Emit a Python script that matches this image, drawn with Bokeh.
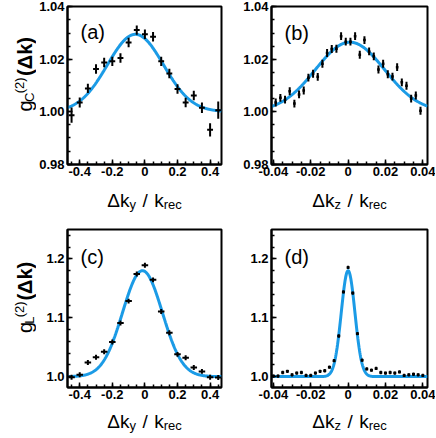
import math
import numpy as np
from bokeh.plotting import figure
from bokeh.layouts import column, row
from bokeh.models import Label, Range1d, FixedTicker
from bokeh.embed import file_html
from bokeh.resources import INLINE

# ---------------- data ----------------
# panel (a): g_C^(2) vs dk_y
ky_a = [-0.45, -0.40, -0.35, -0.30, -0.25, -0.20, -0.15, -0.10, -0.05, 0.00,
        0.05, 0.10, 0.15, 0.20, 0.25, 0.30, 0.35, 0.40, 0.45]
gc_a = [0.9987, 1.0035, 1.0089, 1.0163, 1.0188, 1.0192, 1.0205, 1.0264, 1.0311, 1.0295,
        1.0286, 1.0192, 1.0146, 1.0087, 1.0035, 1.0062, 1.0015, 0.9931, 1.0006]
gc_a_err = [0.0029, 0.0019, 0.0018, 0.0018, 0.0018, 0.0018, 0.0018, 0.0018, 0.0018, 0.0018,
            0.0018, 0.0018, 0.0018, 0.0018, 0.0018, 0.0018, 0.0020, 0.0025, 0.0033]
ky_a_bin = 0.018

# panel (b): g_C^(2) vs dk_z
kz_b = [-0.03875, -0.03625, -0.03375, -0.03125, -0.02875, -0.02625, -0.02375, -0.02125,
        -0.01875, -0.01625, -0.01375, -0.01125, -0.00875, -0.00625, -0.00375, -0.00125,
        0.00125, 0.00375, 0.00625, 0.00875, 0.01125, 0.01375, 0.01625, 0.01875,
        0.02125, 0.02375, 0.02625, 0.02875, 0.03125, 0.03375, 0.03625, 0.03875]
gc_b = [1.0035, 1.0053, 1.0046, 1.0078, 1.0031, 1.0066, 1.0081, 1.0130,
        1.0145, 1.0133, 1.0183, 1.0224, 1.0239, 1.0240, 1.0288, 1.0267,
        1.0267, 1.0288, 1.0217, 1.0273, 1.0230, 1.0211, 1.0161, 1.0183,
        1.0143, 1.0134, 1.0170, 1.0112, 1.0099, 1.0050, 1.0062, 1.0004]
gc_b_err = 0.0015
kz_b_bin = 0.0007

# panel (c): g_L^(2) vs dk_y
ky_c = [-0.45, -0.40, -0.35, -0.30, -0.25, -0.20, -0.15, -0.10, -0.05, 0.00,
        0.05, 0.10, 0.15, 0.20, 0.25, 0.30, 0.35, 0.40, 0.45]
gl_c = [0.9990, 1.0033, 1.0239, 1.0328, 1.0422, 1.0589, 1.0911, 1.1283, 1.1744, 1.1894,
        1.1644, 1.1106, 1.0744, 1.0378, 1.0322, 1.0156, 1.0089, 0.9989, 0.9986]
gl_c_err = 0.0042
ky_c_bin = 0.02

# panel (d): g_L^(2) vs dk_z
kz_d = [-0.0400, -0.0375, -0.0350, -0.0325, -0.0300, -0.0275, -0.0250, -0.0225,
        -0.0200, -0.0175, -0.0150, -0.0125, -0.0100, -0.0075, -0.0050, -0.0025,
        0.0000, 0.0025, 0.0050, 0.0075, 0.0100, 0.0125, 0.0150, 0.0175,
        0.0200, 0.0225, 0.0250, 0.0275, 0.0300, 0.0325, 0.0350, 0.0375, 0.0400]
gl_d = [1.001, 1.001, 1.007, 1.009, 1.003, 1.006, 1.007, 1.002,
        1.002, 1.006, 1.009, 1.010, 1.016, 1.027, 1.069, 1.144,
        1.1856, 1.142, 1.073, 1.028, 1.013, 1.011, 1.014, 1.007,
        1.006, 1.007, 1.006, 1.008, 1.002, 1.003, 1.004, 1.003, 1.002]
gl_d_err = 0.0028
kz_d_bin = 0.0008

# Gaussian fit parameters (baseline, amplitude, centre, width)
fit_a = (1.0, 0.0295, -0.058, 0.172)
fit_b = (1.0, 0.0265, 0.001, 0.0185)
fit_c = (1.0, 0.180, -0.015, 0.122)
fit_d = (1.0, 0.180, 0.0, 0.00365)

# tick labels
ky_ticks = [-0.4, -0.2, 0.0, 0.2, 0.4]
ky_tick_labels = ["-0.4", "-0.2", "0", "0.2", "0.4"]
kz_ticks = [-0.04, -0.02, 0.0, 0.02, 0.04]
kz_tick_labels = ["-0.04", "-0.02", "0", "0.02", "0.04"]
gc_ticks = [0.98, 1.00, 1.02, 1.04]
gc_tick_labels = ["0.98", "1.00", "1.02", "1.04"]
gl_ticks = [1.0, 1.1, 1.2]
gl_tick_labels = ["1.0", "1.1", "1.2"]

# ---------------- styling / layout ----------------
FONT = "Liberation Sans"
BLUE = "#1B9BE6"
TICK_FS = "13px"

YLAB_W = 36                        # strip holding the rotated y labels
LB_L, L_FRAME, LB_R = 31, 154, 10  # left column figure: border, frame, border
RB_L, R_FRAME, RB_R = 40, 156, 8   # right column figure
LEFT_W = LB_L + L_FRAME + LB_R
RIGHT_W = RB_L + R_FRAME + RB_R
FULL_W = YLAB_W + LEFT_W + RIGHT_W
TB_T, BB_T, AX_B, FRAME_H = 6, 14, 17, 158
TOP_H = TB_T + FRAME_H + AX_B
BOT_H = BB_T + FRAME_H + AX_B
XLAB1_H, XLAB2_H = 34, 32
XL_BASE = 15                       # x-label baseline above the strip bottom

W_REG = {' ': 0.278, '(': 0.333, ')': 0.333, '/': 0.278, '2': 0.556, 'C': 0.722, 'L': 0.556,
         'g': 0.556, 'k': 0.5, 'y': 0.5, 'z': 0.5, 'r': 0.333, 'e': 0.556, 'c': 0.5, 'Δ': 0.668}
W_BOLD = {' ': 0.278, '(': 0.333, ')': 0.333, 'Δ': 0.722, 'k': 0.556}


def tw(s, size, bold=False):
    t = W_BOLD if bold else W_REG
    return sum(t.get(ch, 0.556) for ch in s) * size


def add_piece(p, x, y, text, size, bold, angle=0.0):
    p.add_layout(Label(x=x, y=y, text=text, angle=angle,
                       text_font=FONT, text_font_size=f"{size}px",
                       text_font_style="bold" if bold else "normal",
                       text_align="left", text_baseline="alphabetic", text_color="black"))


def piece_len(pieces):
    return sum(tw(t, s, b) + gap for t, s, b, sh, gap in pieces)


def hlabel(p, pieces, cx, y):
    x = cx - piece_len(pieces) / 2
    for t, s, b, sh, gap in pieces:
        add_piece(p, x, y + sh, t, s, b)
        x += tw(t, s, b) + gap


def vlabel(p, pieces, x, cy):
    y = cy - piece_len(pieces) / 2
    for t, s, b, sh, gap in pieces:
        add_piece(p, x - sh, y, t, s, b, angle=math.pi / 2)
        y += tw(t, s, b) + gap


def text_strip(width, height):
    p = figure(width=width, height=height, output_backend="svg", toolbar_location=None,
               x_range=Range1d(0, width), y_range=Range1d(0, height),
               x_axis_location=None, y_axis_location=None,
               min_border_left=0, min_border_right=0, min_border_top=0, min_border_bottom=0)
    p.xgrid.visible = False
    p.ygrid.visible = False
    p.outline_line_color = None
    p.background_fill_color = "white"
    p.border_fill_color = "white"
    return p


def make_panel(width, height, borders, xr, yr, xt, xtl, xminor, yt, ytl, yminor):
    p = figure(width=width, height=height, output_backend="svg", toolbar_location=None,
               x_range=Range1d(*xr), y_range=Range1d(*yr),
               min_border_left=borders[0], min_border_right=borders[1],
               min_border_top=borders[2], min_border_bottom=borders[3])
    p.xgrid.visible = False
    p.ygrid.visible = False
    p.outline_line_color = "black"
    p.outline_line_width = 2
    p.background_fill_color = "white"
    p.border_fill_color = "white"
    p.xaxis.ticker = FixedTicker(ticks=xt, minor_ticks=xminor)
    p.yaxis.ticker = FixedTicker(ticks=yt, minor_ticks=yminor)
    p.xaxis.major_label_overrides = {v: l for v, l in zip(xt, xtl)}
    p.yaxis.major_label_overrides = {v: l for v, l in zip(yt, ytl)}
    for ax in (p.xaxis[0], p.yaxis[0]):
        ax.axis_line_width = 2
        ax.axis_line_color = "black"
        ax.major_tick_in = 5
        ax.major_tick_out = 0
        ax.minor_tick_in = 3
        ax.minor_tick_out = 0
        ax.major_tick_line_width = 1.5
        ax.minor_tick_line_width = 1.5
        ax.major_label_text_font = FONT
        ax.major_label_text_font_style = "bold"
        ax.major_label_text_font_size = TICK_FS
        ax.major_label_text_color = "black"
    p.xaxis[0].major_label_standoff = 2
    p.yaxis[0].major_label_standoff = 3
    return p


def draw(p, xs, ys, yerr, xerr, fit, xr, hw):
    x = np.array(xs)
    y = np.array(ys)
    ye = np.broadcast_to(np.array(yerr, dtype=float), y.shape)
    b, a, c, s = fit
    xf = np.linspace(xr[0], xr[1], 400)
    yf = b + a * np.exp(-(xf - c) ** 2 / (2 * s ** 2))
    p.line(xf, yf, line_color=BLUE, line_width=3)
    p.segment(x0=x, y0=y - ye, x1=x, y1=y + ye, line_color="black", line_width=2)
    p.segment(x0=x - xerr, y0=y, x1=x + xerr, y1=y, line_color="black", line_width=hw)


minor_ky = [round(v, 3) for v in np.arange(-0.45, 0.46, 0.05)]
minor_kz = [round(v, 4) for v in np.arange(-0.04, 0.0401, 0.005)]
minor_gc = [round(v, 4) for v in np.arange(0.98, 1.0401, 0.005)]
minor_gl = [round(v, 3) for v in np.arange(0.98, 1.2501, 0.02)]

XR_Y = (-0.475, 0.47)
XR_Z = (-0.041, 0.0425)
YR_C = (0.9799, 1.0401)
YR_L = (0.9815, 1.25)

pa = make_panel(LEFT_W, TOP_H, (LB_L, LB_R, TB_T, AX_B), XR_Y, YR_C, ky_ticks, ky_tick_labels,
                minor_ky, gc_ticks, gc_tick_labels, minor_gc)
pb = make_panel(RIGHT_W, TOP_H, (RB_L, RB_R, TB_T, AX_B), XR_Z, YR_C, kz_ticks, kz_tick_labels,
                minor_kz, gc_ticks, gc_tick_labels, minor_gc)
pc = make_panel(LEFT_W, BOT_H, (LB_L, LB_R, BB_T, AX_B), XR_Y, YR_L, ky_ticks, ky_tick_labels,
                minor_ky, gl_ticks, gl_tick_labels, minor_gl)
pd = make_panel(RIGHT_W, BOT_H, (RB_L, RB_R, BB_T, AX_B), XR_Z, YR_L, kz_ticks, kz_tick_labels,
                minor_kz, gl_ticks, gl_tick_labels, minor_gl)

draw(pa, ky_a, gc_a, gc_a_err, ky_a_bin, fit_a, XR_Y, 2)
draw(pb, kz_b, gc_b, gc_b_err, kz_b_bin, fit_b, XR_Z, 2.5)
draw(pc, ky_c, gl_c, gl_c_err, ky_c_bin, fit_c, XR_Y, 2)
draw(pd, kz_d, gl_d, gl_d_err, kz_d_bin, fit_d, XR_Z, 2.5)

# panel letters
for p, t, xr, yr, dy in ((pa, "(a)", XR_Y, YR_C, -14), (pb, "(b)", XR_Z, YR_C, -15),
                         (pc, "(c)", XR_Y, YR_L, -16), (pd, "(d)", XR_Z, YR_L, -16)):
    p.add_layout(Label(x=xr[0], y=yr[1], x_offset=13, y_offset=dy, text=t,
                       text_font=FONT, text_font_size="20px", text_align="left",
                       text_baseline="top", text_color="black"))

# x axis label strips: (text, size, bold, baseline shift, gap after)
lab_y = [("Δk", 19, False, 0, 0), ("y", 13, False, -3.5, 6.5), ("/", 19, False, 0, 6.5),
         ("k", 19, False, 0, 0), ("rec", 13, False, -3.5, 0)]
lab_z = [("Δk", 19, False, 0, 0), ("z", 13, False, -3.5, 6.5), ("/", 19, False, 0, 6.5),
         ("k", 19, False, 0, 0), ("rec", 13, False, -3.5, 0)]
cx_left = YLAB_W + LB_L + L_FRAME / 2
cx_right = YLAB_W + LEFT_W + RB_L + R_FRAME / 2

xl1 = text_strip(FULL_W, XLAB1_H)
hlabel(xl1, lab_y, cx_left, XL_BASE)
hlabel(xl1, lab_z, cx_right, XL_BASE)

xl2 = text_strip(FULL_W, XLAB2_H)
hlabel(xl2, lab_y, cx_left, XL_BASE)
hlabel(xl2, lab_z, cx_right, XL_BASE)

# y axis label strips
lab_gc = [("g", 20, False, 0, 0), ("C", 13, False, -4.5, 0.5), ("(2)", 13, False, 5.5, 4),
          ("(Δk)", 20, True, 0, 0)]
lab_gl = [("g", 20, False, 0, 0), ("L", 13, False, -4.5, 0.5), ("(2)", 13, False, 5.5, 4),
          ("(Δk)", 20, True, 0, 0)]
yl1 = text_strip(YLAB_W, TOP_H)
vlabel(yl1, lab_gc, 24, TOP_H - (TB_T + FRAME_H / 2 - 4.5))
yl2 = text_strip(YLAB_W, BOT_H)
vlabel(yl2, lab_gl, 24, BOT_H - (BB_T + FRAME_H / 2 - 8))

layout = column(row(yl1, pa, pb), xl1, row(yl2, pc, pd), xl2)
open("out.html", "w").write(file_html(layout, INLINE))
